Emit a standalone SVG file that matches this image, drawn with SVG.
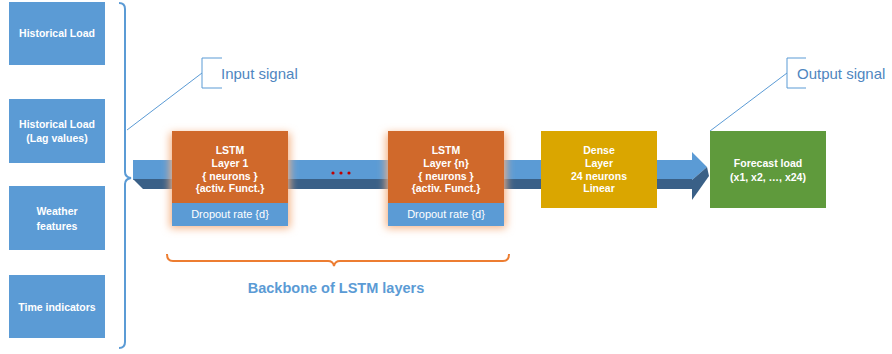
<svg xmlns="http://www.w3.org/2000/svg" width="892" height="354" viewBox="0 0 892 354">
<defs>
<style>
.in{fill:#5b9bd5;}
.lbl{font-family:"Liberation Sans",Arial,sans-serif;font-size:10.5px;font-weight:bold;fill:#ffffff;text-anchor:middle;}
.drp{font-family:"Liberation Sans",Arial,sans-serif;font-size:11px;fill:#ffffff;text-anchor:middle;}
.call{font-family:"Liberation Sans",Arial,sans-serif;font-size:15px;fill:#4f86c0;}
.ln{fill:none;stroke:#5b9bd5;stroke-width:1;}
.lstm{fill:#d0692b;}
</style>
<filter id="glow" x="-30%" y="-30%" width="160%" height="160%">
<feGaussianBlur stdDeviation="4"/>
</filter>
</defs>
<rect width="892" height="354" fill="#ffffff"/>

<g id="inputs">
<g id="hist-load"><rect class="in" x="9" y="2" width="96" height="63"/><text class="lbl" x="57" y="37">Historical Load</text></g>
<g id="hist-lag"><rect class="in" x="9" y="99" width="96" height="64"/><text class="lbl" x="57" y="128">Historical Load</text><text class="lbl" x="57" y="142">(Lag values)</text></g>
<g id="weather"><rect class="in" x="9" y="186" width="96" height="64"/><text class="lbl" x="57" y="215">Weather</text><text class="lbl" x="57" y="230">features</text></g>
<g id="time"><rect class="in" x="9" y="275" width="96" height="63"/><text class="lbl" x="57" y="311">Time indicators</text></g>
</g>

<g id="connectors">
<path d="M119,3 Q125,3 125,9 V172 Q125,177 131,178 Q125,179 125,184 V342 Q125,348 119,348" fill="none" stroke="#5b9bd5" stroke-width="2"/>
<path class="ln" d="M127,130 L202,73"/>
<path class="ln" d="M222,58 H202 V88 H222"/>
<path class="ln" d="M710,131 L787,73"/>
<path class="ln" d="M806,58 H787 V88 H806"/>
<g id="arrow">
<path d="M133,160 H692 V152 L707,167 L692,180 H133 Z" fill="#5b9bd5"/>
<path d="M133,179 H692 V189 H143 Z" fill="#3a6087"/>
<path d="M707,167 L709,176 L692,200 L692,180 Z" fill="#3a6087"/>
</g>
<path d="M167,254 Q167,261 173,261 H328 Q333,261 334,266 Q335,261 340,261 H503 Q509,261 509,254" fill="none" stroke="#ed7d31" stroke-width="2"/>
<circle cx="333" cy="173" r="1.6" fill="#c00000"/>
<circle cx="341" cy="173" r="1.6" fill="#c00000"/>
<circle cx="349" cy="173" r="1.6" fill="#c00000"/>
</g>

<g id="lstm1">
<rect x="170" y="133" width="120" height="95" fill="#f4b183" filter="url(#glow)"/>
<rect class="lstm" x="172" y="131" width="116" height="72"/>
<rect class="in" x="172" y="203" width="116" height="23"/>
<text class="lbl" x="230" y="154">LSTM</text>
<text class="lbl" x="230" y="167">Layer 1</text>
<text class="lbl" x="230" y="180">{ neurons }</text>
<text class="lbl" x="230" y="192">{activ. Funct.}</text>
<text class="drp" x="230" y="218">Dropout rate {d}</text>
</g>

<g id="lstmn">
<rect x="386" y="133" width="120" height="95" fill="#f4b183" filter="url(#glow)"/>
<rect class="lstm" x="388" y="131" width="116" height="72"/>
<rect class="in" x="388" y="203" width="116" height="23"/>
<text class="lbl" x="446" y="154">LSTM</text>
<text class="lbl" x="446" y="167">Layer {n}</text>
<text class="lbl" x="446" y="180">{ neurons }</text>
<text class="lbl" x="446" y="192">{activ. Funct.}</text>
<text class="drp" x="446" y="218">Dropout rate {d}</text>
</g>

<g id="dense">
<rect x="541" y="131" width="116" height="77" fill="#daa600"/>
<text class="lbl" x="599" y="154">Dense</text>
<text class="lbl" x="599" y="167">Layer</text>
<text class="lbl" x="599" y="180">24 neurons</text>
<text class="lbl" x="599" y="192">Linear</text>
</g>

<g id="forecast">
<rect x="710" y="131" width="116" height="77" fill="#5f9a3c"/>
<text class="lbl" x="768" y="167">Forecast load</text>
<text class="lbl" x="768" y="181">(x1, x2, …, x24)</text>
</g>

<g id="labels">
<text class="call" x="221" y="79">Input signal</text>
<text class="call" x="797" y="79">Output signal</text>
<text x="336" y="293" font-family="Liberation Sans, Arial, sans-serif" font-size="14.5" font-weight="bold" fill="#5b9bd5" text-anchor="middle">Backbone of LSTM layers</text>
</g>
</svg>
